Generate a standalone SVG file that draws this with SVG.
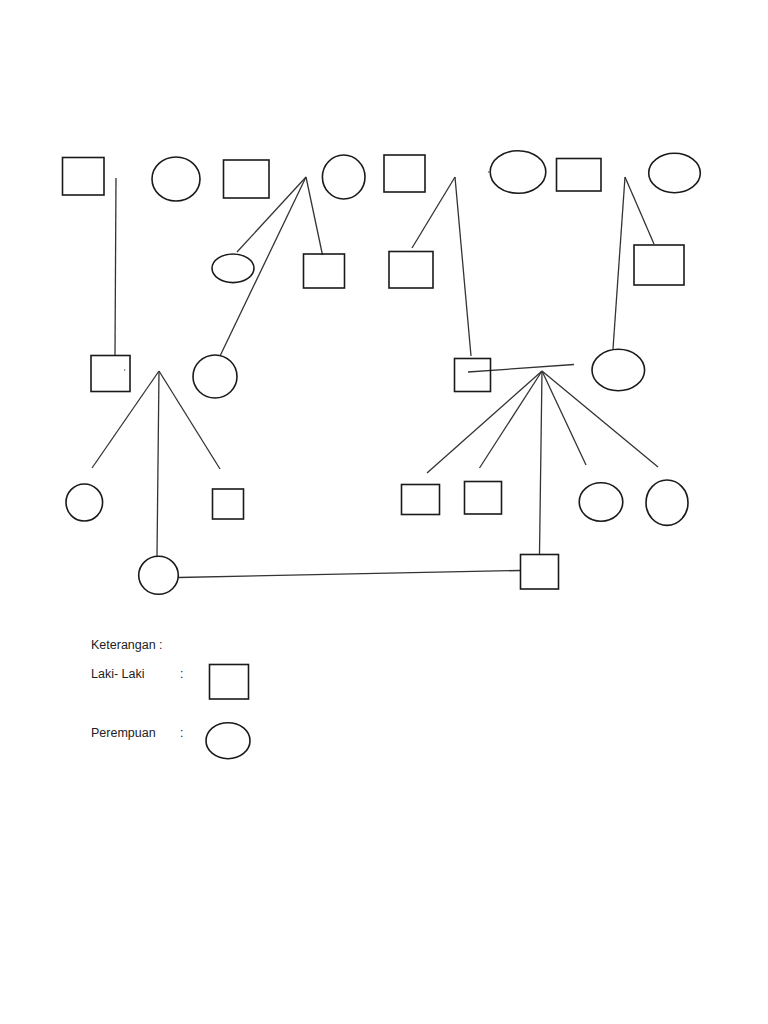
<svg xmlns="http://www.w3.org/2000/svg" width="768" height="1024" viewBox="0 0 768 1024">
<style>
.n{fill:none;stroke:#1a1a1a;stroke-width:1.6}
.c line{stroke:#333;stroke-width:1.3}
text{font-family:"Liberation Sans",Arial,sans-serif;font-size:12.5px;fill:#222}
</style>
<rect width="768" height="1024" fill="#fff"/>
<g class="c" id="connectors">
<line x1="116" y1="178" x2="115" y2="355"/>
<line x1="306" y1="177" x2="237" y2="252"/>
<line x1="306" y1="177" x2="322.5" y2="255"/>
<line x1="306" y1="177" x2="220.5" y2="355"/>
<line x1="455" y1="177" x2="412" y2="248"/>
<line x1="455" y1="177" x2="471" y2="356"/>
<line x1="625" y1="177" x2="654" y2="244"/>
<line x1="625" y1="177" x2="613" y2="349"/>
<line x1="159" y1="371" x2="92" y2="468"/>
<line x1="159" y1="371" x2="220" y2="469"/>
<line x1="159" y1="371" x2="157" y2="556"/>
<line x1="468" y1="372" x2="574" y2="364.5"/>
<line x1="542" y1="371" x2="427" y2="473"/>
<line x1="542" y1="371" x2="479.5" y2="468"/>
<line x1="542" y1="371" x2="586" y2="465"/>
<line x1="542" y1="371" x2="658" y2="467"/>
<line x1="542" y1="371" x2="539.5" y2="554"/>
<line x1="178.5" y1="577.5" x2="520" y2="570.5"/>
</g>
<g id="n1"><rect class="n" x="62.5" y="157.5" width="41.5" height="37.5"/></g>
<g id="n2"><ellipse class="n" cx="176" cy="179" rx="24" ry="22"/></g>
<g id="n3"><rect class="n" x="223.5" y="160" width="45.5" height="38"/></g>
<g id="n4"><ellipse class="n" cx="343.7" cy="177" rx="21.3" ry="22"/></g>
<g id="n5"><ellipse class="n" cx="233" cy="268.3" rx="21" ry="14.3"/></g>
<g id="n6"><rect class="n" x="303.5" y="254" width="41" height="34"/></g>
<g id="n7"><rect class="n" x="384" y="155" width="41" height="37"/></g>
<g id="n8"><rect class="n" x="389" y="251.5" width="44" height="36.5"/></g>
<g id="n9"><ellipse class="n" cx="518" cy="172" rx="27.8" ry="21.3"/><circle cx="488.5" cy="172" r="0.7" fill="#555"/></g>
<g id="n10"><rect class="n" x="556.5" y="158.5" width="44.5" height="32.5"/></g>
<g id="n11"><ellipse class="n" cx="674.5" cy="173" rx="25.8" ry="19.7"/></g>
<g id="n12"><rect class="n" x="634" y="245" width="50" height="40"/></g>
<g id="n13"><rect class="n" x="91" y="355.5" width="39" height="36"/><circle cx="124.7" cy="370" r="0.7" fill="#555"/></g>
<g id="n14"><ellipse class="n" cx="215" cy="376.5" rx="22" ry="21.5"/></g>
<g id="n15"><rect class="n" x="454.5" y="358.5" width="36" height="33"/></g>
<g id="n16"><ellipse class="n" cx="618.3" cy="370" rx="26.3" ry="20.8"/></g>
<g id="n17"><ellipse class="n" cx="84.3" cy="502.5" rx="18.3" ry="18.5"/></g>
<g id="n18"><rect class="n" x="212.5" y="489" width="31" height="30"/></g>
<g id="n19"><rect class="n" x="401.5" y="484.5" width="38" height="30"/></g>
<g id="n20"><rect class="n" x="464.5" y="481.5" width="37" height="32.5"/></g>
<g id="n21"><ellipse class="n" cx="601" cy="502" rx="21.8" ry="19.2"/></g>
<g id="n22"><ellipse class="n" cx="667" cy="502.7" rx="21" ry="22.7"/></g>
<g id="n23"><ellipse class="n" cx="158.5" cy="575.3" rx="19.8" ry="19"/></g>
<g id="n24"><rect class="n" x="520.5" y="554.5" width="38" height="34.5"/></g>
<g id="legend">
<text x="91" y="649">Keterangan :</text>
<text x="91" y="678">Laki- Laki</text>
<text x="180" y="678">:</text>
<rect class="n" x="209.5" y="664.5" width="39" height="34.5"/>
<text x="91" y="737">Perempuan</text>
<text x="180" y="737">:</text>
<ellipse class="n" cx="228" cy="740.7" rx="22" ry="18"/>
</g>
</svg>
